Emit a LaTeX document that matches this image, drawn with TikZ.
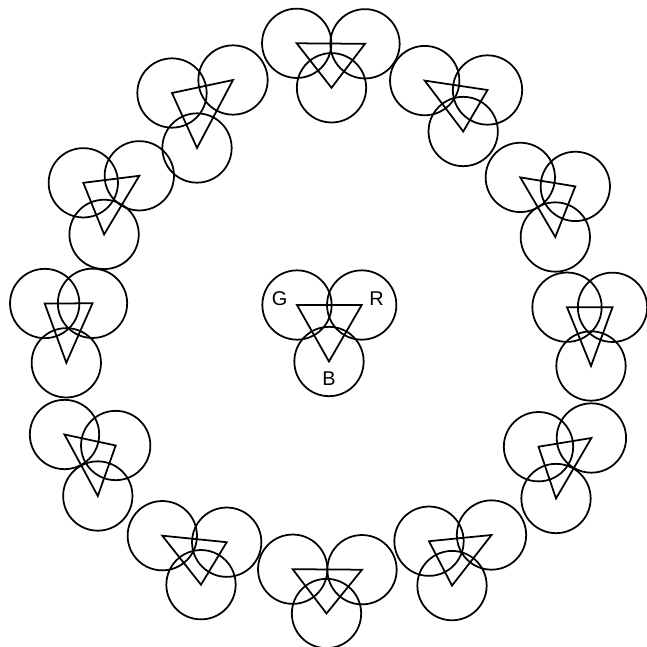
\documentclass[tikz,border=0pt]{standalone}
\usepackage{fontspec}
\setmainfont{Liberation Sans}
\usetikzlibrary{positioning}

\begin{document}
\begin{tikzpicture}[x=0.03cm, y=-0.03cm, line width=1.5pt,
  every node/.style={font=\fontsize{17}{19}\selectfont},
  spot/.style={draw, circle, minimum size=2.08cm, inner sep=0pt, outer sep=0pt}]
\useasboundingbox (0,0) rectangle (647,647);
% ring of misconverged triads: name / G / R / B centres
\foreach \n/\gx/\gy/\rx/\ry/\bx/\by in {
  ta/296.7/43.3/365/43.8/331.5/87.8,
  tb/424.7/80.6/487.5/90/463.2/131.5,
  tc/520.3/177.4/575.3/186.4/555.3/237,
  td/567/307.2/612.5/307.3/591/366,
  te/538.5/446.7/591.4/438/556/498.5,
  tf/429/541.2/491.5/535/452/585.6,
  tg/292.7/569.2/362/569.7/326.5/613.5,
  th/162.3/535.7/226.7/542.2/201/584.7,
  ti/64.5/434.5/115.7/445.5/97.8/496,
  tj/44.7/303.5/92.5/303.3/66.3/362.8,
  tk/83.3/182.8/139.3/175.8/104.1/234.4,
  tl/172/93/233/80/197/148}{
  \node[spot] (\n g) at (\gx,\gy) {};
  \node[spot] (\n r) at (\rx,\ry) {};
  \node[spot] (\n b) at (\bx,\by) {};
  \draw (\n g.center) -- (\n r.center) -- (\n b.center) -- cycle;
}
% centre triad with labels
\node[spot] (mg) at (297,305) {};
\node[spot] (mr) at (361.7,305) {};
\node[spot] (mb) at (329,361.5) {};
\draw (mg.center) -- (mr.center) -- (mb.center) -- cycle;
\node (lg) at (279.5,298.5) {G};
\node (lr) at (376.5,298.5) {R};
\node (lb) at (329,378.5) {B};
\end{tikzpicture}
\end{document}
